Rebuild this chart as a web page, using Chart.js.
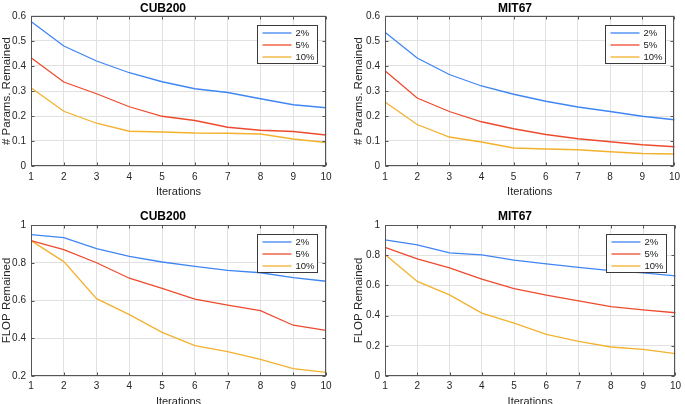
<!DOCTYPE html>
<html><head><meta charset="utf-8">
<script src="https://cdn.jsdelivr.net/npm/chart.js@4/dist/chart.umd.min.js"></script>
<style>
html,body{margin:0;padding:0;width:685px;height:404px;overflow:hidden;background:#fff;position:relative}
canvas{position:absolute}
</style></head><body>
<canvas id="c1" width="342" height="200" style="left:0;top:0"></canvas>
<canvas id="c2" width="333" height="200" style="left:352px;top:0"></canvas>
<canvas id="c3" width="342" height="202" style="left:0;top:208px"></canvas>
<canvas id="c4" width="333" height="202" style="left:352px;top:208px"></canvas>
<script>
// ---- data ----
const iterations = ['1','2','3','4','5','6','7','8','9','10'];
const seriesLabels = ['2%','5%','10%'];
const cubParams2  = [0.578,0.480,0.420,0.373,0.337,0.309,0.294,0.269,0.245,0.233];
const cubParams5  = [0.433,0.336,0.289,0.237,0.199,0.182,0.155,0.143,0.138,0.124];
const cubParams10 = [0.313,0.219,0.171,0.139,0.136,0.132,0.131,0.128,0.108,0.094];
const mitParams2  = [0.535,0.432,0.366,0.320,0.287,0.259,0.236,0.218,0.199,0.185];
const mitParams5  = [0.381,0.272,0.218,0.177,0.149,0.126,0.109,0.097,0.085,0.077];
const mitParams10 = [0.256,0.166,0.116,0.096,0.072,0.068,0.065,0.057,0.050,0.048];
const cubFlop2  = [0.949,0.933,0.875,0.834,0.804,0.781,0.760,0.747,0.721,0.702];
const cubFlop5  = [0.917,0.869,0.800,0.718,0.664,0.607,0.575,0.546,0.469,0.442];
const cubFlop10 = [0.917,0.806,0.610,0.525,0.431,0.361,0.329,0.288,0.239,0.219];
const mitFlop2  = [0.901,0.868,0.815,0.802,0.767,0.742,0.720,0.698,0.683,0.663];
const mitFlop5  = [0.852,0.775,0.716,0.641,0.579,0.535,0.498,0.460,0.438,0.419];
const mitFlop10 = [0.804,0.626,0.537,0.416,0.350,0.275,0.229,0.192,0.176,0.148];
const paramsTicks = [0,0.1,0.2,0.3,0.4,0.5,0.6];
const cubFlopTicks = [0.2,0.4,0.6,0.8,1];
const mitFlopTicks = [0,0.2,0.4,0.6,0.8,1];
const titles = ['CUB200','MIT67'];
const yTitles = ['# Params. Remained','FLOP Remained'];
const xTitle = 'Iterations';

// ---- style ----
const colors = ['#3f86f3','#ee4b2e','#f3b12e'];
Chart.defaults.font.family = "'Liberation Sans', Arial, Helvetica, sans-serif";
Chart.defaults.color = '#262626';

const matlabPlugin = {
  id: 'matlab',
  afterDraw(chart) {
    const {ctx, chartArea: a, scales: {x, y}} = chart;
    ctx.save();
    const L = Math.round(a.left) + 0.5, R = Math.round(a.right) - 0.5;
    const T = Math.round(a.top) + 0.5, B = Math.round(a.bottom) - 0.5;
    ctx.strokeStyle = '#555';
    ctx.lineWidth = 1;
    ctx.beginPath();
    x.ticks.forEach((t, i) => {
      const px = Math.round(x.getPixelForTick(i)) + 0.5;
      ctx.moveTo(px, B); ctx.lineTo(px, B - 3);
      ctx.moveTo(px, T); ctx.lineTo(px, T + 3);
    });
    y.ticks.forEach((t) => {
      const py = Math.round(y.getPixelForValue(t.value)) + 0.5;
      ctx.moveTo(L, py); ctx.lineTo(L + 3, py);
      ctx.moveTo(R, py); ctx.lineTo(R - 3, py);
    });
    ctx.stroke();
    ctx.strokeRect(L, T, R - L, B - T);
    // legend
    const w = 60, h = 38;
    const bx = Math.round(a.right - 9 - w) + 0.5, by = Math.round(a.top + 9) + 0.5;
    ctx.fillStyle = '#fff';
    ctx.fillRect(bx, by, w, h);
    ctx.strokeStyle = '#3a3a3a';
    ctx.strokeRect(bx, by, w, h);
    ctx.font = "9.5px 'Liberation Sans', Arial, sans-serif";
    ctx.textBaseline = 'middle';
    ctx.textAlign = 'left';
    chart.data.datasets.forEach((ds, i) => {
      const ly = by + 7.5 + i * 12;
      ctx.strokeStyle = ds.borderColor;
      ctx.lineWidth = 1.3;
      ctx.beginPath();
      ctx.moveTo(bx + 5, ly); ctx.lineTo(bx + 34, ly);
      ctx.stroke();
      ctx.fillStyle = '#1a1a1a';
      ctx.fillText(ds.label, bx + 38, ly + 0.5);
    });
    ctx.restore();
  }
};

function makeChart(id, title, yTitle, series, yTicks, yWidth, padRight, titleBottom, xPad) {
  new Chart(document.getElementById(id), {
    type: 'line',
    data: {
      labels: iterations,
      datasets: series.map((d, i) => ({
        label: seriesLabels[i], data: d, borderColor: colors[i], backgroundColor: colors[i],
        borderWidth: 1.3, pointRadius: 0, tension: 0, fill: false
      }))
    },
    options: {
      responsive: false, animation: false, events: [],
      layout: {padding: {left: 0, right: padRight, top: 0, bottom: 0}},
      plugins: {
        legend: {display: false},
        tooltip: {enabled: false},
        title: {display: true, text: title, color: '#000',
          font: {size: 12, weight: 'bold'}, padding: {top: 1, bottom: titleBottom}}
      },
      scales: {
        x: {
          type: 'category', offset: false,
          grid: {color: '#e1e1e1', drawTicks: false},
          border: {display: false},
          ticks: {padding: xPad, font: {size: 10}, maxRotation: 0, autoSkip: false},
          title: {display: true, text: xTitle, font: {size: 11}, padding: {top: 0, bottom: 1.5}},
          afterFit(s) { s.height = 34; }
        },
        y: {
          min: yTicks[0], max: yTicks[yTicks.length - 1],
          afterBuildTicks(s) { s.ticks = yTicks.map(v => ({value: v})); },
          grid: {color: '#e1e1e1', drawTicks: false},
          border: {display: false},
          ticks: {padding: 5, font: {size: 10}, callback: v => String(+Number(v).toFixed(2))},
          title: {display: true, text: yTitle, font: {size: 11.5}, padding: {top: 0, bottom: 0}},
          afterFit(s) { s.width = yWidth; }
        }
      }
    },
    plugins: [matlabPlugin]
  });
}

makeChart('c1', titles[0], yTitles[0], [cubParams2, cubParams5, cubParams10], paramsTicks, 31, 16, 0.6, 5);
makeChart('c2', titles[1], yTitles[0], [mitParams2, mitParams5, mitParams10], paramsTicks, 33, 7, 0.6, 5);
makeChart('c3', titles[0], yTitles[1], [cubFlop2, cubFlop5, cubFlop10], cubFlopTicks, 31, 16, 1.6, 4);
makeChart('c4', titles[1], yTitles[1], [mitFlop2, mitFlop5, mitFlop10], mitFlopTicks, 33, 7, 1.6, 4);
</script>
</body></html>
